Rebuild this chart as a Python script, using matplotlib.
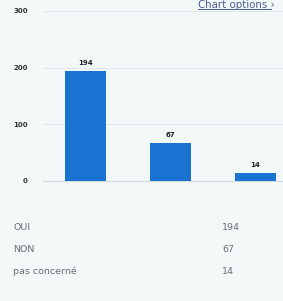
import matplotlib.pyplot as plt

# survey answers
categories = ["OUI", "NON", "pas concerné"]
counts = [194, 67, 14]
y_ticks = [0, 100, 200, 300]

bg = "#f3f8f9"
bar_color = "#1a73d0"
text_color = "#6b6f72"

fig = plt.figure(figsize=(2.83, 3.01), dpi=100)
fig.patch.set_facecolor(bg)

ax = fig.add_axes([0.152, 0.399, 0.901, 0.565])
ax.set_facecolor(bg)
x = range(len(categories))
ax.bar(x, counts, width=0.48, color=bar_color, zorder=3)
for i, v in enumerate(counts):
    ax.text(i, v + 8, str(v), ha="center", va="bottom", fontsize=5,
            fontweight="bold", color="#222222")

ax.set_xlim(-0.5, 2.5)
ax.set_ylim(0, 300)
ax.set_yticks(y_ticks)
ax.set_yticklabels([str(t) for t in y_ticks], fontsize=5, color="#333333",
                   fontweight="bold")
ax.set_xticks([])
ax.grid(axis="y", color="#e3e9eb", linewidth=0.8, zorder=0)
ax.tick_params(axis="y", length=0, pad=11)
for s in ["top", "right", "left"]:
    ax.spines[s].set_visible(False)
ax.spines["bottom"].set_color("#d3dadd")
ax.spines["bottom"].set_linewidth(0.8)

# link at top right
fig.text(198 / 283, 1 - 0.3 / 301, "Chart options ›", fontsize=7.4,
         color="#4a5f95", ha="left", va="top")
fig.add_artist(plt.Line2D([198 / 283, 271 / 283], [1 - 9 / 301] * 2,
                          color="#4a5f95", linewidth=0.7))

# summary table
row_y = [228, 250, 271]
for lab, v, yy in zip(categories, counts, row_y):
    fig.text(13 / 283, 1 - yy / 301, lab, fontsize=6.8, color=text_color,
             ha="left", va="center")
    fig.text(222 / 283, 1 - yy / 301, str(v), fontsize=6.8, color=text_color,
             ha="left", va="center")

fig.savefig("out.png", dpi=100, facecolor=bg)
